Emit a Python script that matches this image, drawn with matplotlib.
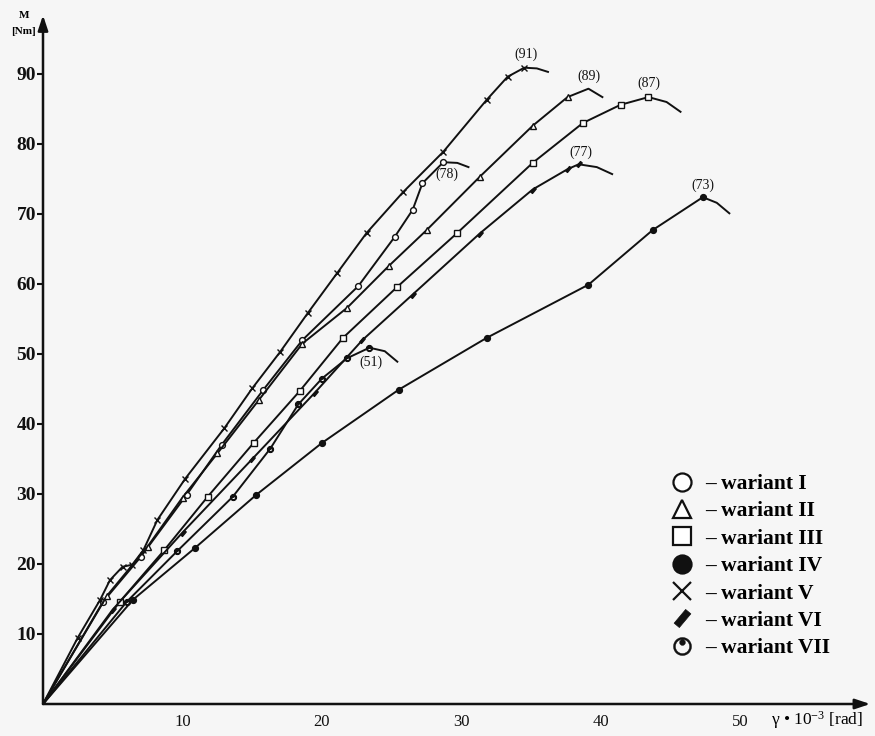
import numpy as np
import matplotlib
matplotlib.use("Agg")
import matplotlib.pyplot as plt
from matplotlib.path import Path
from matplotlib.lines import Line2D

# ---------------- data ----------------
variant_names = ["I", "II", "III", "IV", "V", "VI", "VII"]

gamma_I = [0, 4.3, 7.0, 10.3, 12.8, 15.8, 18.6, 22.6, 25.2, 26.5, 27.2, 28.7, 29.7, 30.5]
M_I     = [0, 14.6, 21.0, 29.9, 37.0, 44.9, 52.0, 59.7, 66.7, 70.6, 74.4, 77.4, 77.3, 76.7]

gamma_II = [0, 4.6, 7.5, 10.0, 12.5, 15.5, 18.6, 21.8, 24.8, 27.5, 31.3, 35.1, 37.6, 39.1, 40.1]
M_II     = [0, 15.5, 22.5, 29.5, 35.8, 43.5, 51.5, 56.6, 62.6, 67.7, 75.3, 82.6, 86.7, 87.9, 86.7]

gamma_III = [0, 5.5, 8.7, 11.8, 15.1, 18.4, 21.5, 25.4, 29.7, 35.1, 38.7, 41.4, 43.4, 44.7, 45.7]
M_III     = [0, 14.6, 22.0, 29.6, 37.3, 44.7, 52.3, 59.6, 67.3, 77.3, 83.0, 85.6, 86.7, 86.0, 84.6]

gamma_IV = [0, 6.45, 10.9, 15.3, 20.0, 25.5, 31.8, 39.1, 43.7, 47.3, 48.3, 49.2]
M_IV     = [0, 14.9, 22.3, 29.9, 37.3, 44.9, 52.3, 59.9, 67.7, 72.4, 71.6, 70.1]

gamma_V = [0, 2.5, 4.1, 4.8, 5.7, 6.4, 7.2, 8.2, 10.2, 13.0, 15.0, 17.0, 19.0, 21.1, 23.2,
           25.8, 28.7, 31.8, 33.3, 34.5, 35.4, 36.2]
M_V     = [0, 9.5, 14.9, 17.7, 19.6, 19.9, 22.0, 26.3, 32.2, 39.4, 45.1, 50.3, 55.9, 61.6, 67.3,
           73.1, 78.9, 86.3, 89.6, 90.9, 90.8, 90.3]

gamma_VI = [0, 5.0, 10.0, 15.0, 19.5, 22.9, 26.5, 31.3, 35.1, 37.6, 38.4, 39.7, 40.8]
M_VI     = [0, 13.5, 24.5, 35.0, 44.5, 52.0, 58.5, 67.2, 73.5, 76.4, 77.1, 76.7, 75.7]

gamma_VII = [0, 6.0, 9.6, 13.6, 16.3, 18.3, 20.0, 21.8, 23.4, 24.5, 25.4]
M_VII     = [0, 14.6, 21.8, 29.6, 36.5, 42.8, 46.5, 49.4, 50.9, 50.4, 48.9]

peak_labels = ["(78)", "(89)", "(87)", "(73)", "(91)", "(77)", "(51)"]

x_ticks = [10, 20, 30, 40, 50]
y_ticks = [10, 20, 30, 40, 50, 60, 70, 80, 90]

# ---------------- style ----------------
plt.rcParams["font.family"] = ["Liberation Serif", "DejaVu Serif"]
plt.rcParams["mathtext.fontset"] = "custom"
plt.rcParams["mathtext.rm"] = "Liberation Serif"
plt.rcParams["mathtext.it"] = "Liberation Serif:italic"

BG = "#f6f6f6"
INK = "#111111"

# custom marker: thick slanted bar (variant VI)
ang = np.deg2rad(50)
rot = np.array([[np.cos(ang), -np.sin(ang)], [np.sin(ang), np.cos(ang)]])
bar = np.array([[-1, -0.38], [1, -0.38], [1, 0.38], [-1, 0.38], [-1, -0.38]]) @ rot.T
bar_marker = Path(bar, [Path.MOVETO, Path.LINETO, Path.LINETO, Path.LINETO, Path.CLOSEPOLY])

# custom marker: ring with dot at top (variant VII)
t = np.linspace(0, 2 * np.pi, 49)
circ = np.c_[np.cos(t), np.sin(t)]
outer = circ
inner = 0.78 * circ[::-1]
dot = 0.32 * circ + np.array([0, 0.44])
verts = np.vstack([outer, inner, dot])
codes = []
for _ in range(3):
    codes += [Path.MOVETO] + [Path.LINETO] * (len(t) - 2) + [Path.CLOSEPOLY]
ring_marker = Path(verts, codes)

series = [
    (gamma_I, M_I, dict(marker="o", mfc="white", mec=INK)),
    (gamma_II, M_II, dict(marker="^", mfc="white", mec=INK)),
    (gamma_III, M_III, dict(marker="s", mfc="white", mec=INK)),
    (gamma_IV, M_IV, dict(marker="o", mfc=INK, mec=INK)),
    (gamma_V, M_V, dict(marker="x", mfc=INK, mec=INK)),
    (gamma_VI, M_VI, dict(marker=bar_marker, mfc=INK, mec=INK)),
    (gamma_VII, M_VII, dict(marker=ring_marker, mfc=INK, mec=INK)),
]
legend_mew = [1.6, 1.6, 1.6, 1.6, 1.6, 0.5, 0.3]
label_offsets = [(4, -12), (0, 12), (0, 14), (0, 12), (2, 13), (2, 12), (2, -15)]

fig = plt.figure(figsize=(8.75, 7.36), dpi=100, facecolor=BG)
ax = fig.add_axes([43 / 875, 32 / 736, 832 / 875, 699 / 736])
ax.set_facecolor(BG)
ax.set_xlim(0, 832 / 13.95)
ax.set_ylim(0, 699 / 7.0)

for (gx, my, st), lab, off in zip(series, peak_labels, label_offsets):
    ax.plot(gx, my, color=INK, lw=1.4, ms=4.2, mew=1.0, markevery=slice(1, -2),
            solid_joinstyle="round", **st)
    ip = int(np.argmax(my))
    ax.annotate(lab, xy=(gx[ip], my[ip]), xytext=off, textcoords="offset pixels",
                ha="center", va="center", fontsize=10, color=INK)

# axes with arrows
for s in ax.spines.values():
    s.set_visible(False)
ax.annotate("", xy=(59.3, 0), xytext=(0, 0),
            arrowprops=dict(arrowstyle="-|>,head_length=0.9,head_width=0.3", lw=1.8, color=INK,
                            shrinkA=0, shrinkB=0), annotation_clip=False)
ax.annotate("", xy=(0, 98.4), xytext=(0, 0),
            arrowprops=dict(arrowstyle="-|>,head_length=0.9,head_width=0.3", lw=1.8, color=INK,
                            shrinkA=0, shrinkB=0), annotation_clip=False)

ax.set_xticks(x_ticks)
ax.set_xticklabels([str(v) for v in x_ticks], fontsize=12, color=INK)
ax.set_yticks(y_ticks)
ax.set_yticklabels([str(v) for v in y_ticks], fontsize=14, fontweight="bold", color=INK)
ax.tick_params(axis="x", length=0, pad=7)
ax.tick_params(axis="y", direction="out", length=4, width=1.5, pad=1, color=INK)

fig.text(24 / 875, 1 - 15 / 736, "M", ha="center", va="center", fontsize=8, fontweight="bold")
fig.text(23 / 875, 1 - 31 / 736, "[Nm]", ha="center", va="center", fontsize=8, fontweight="bold")
fig.text(771 / 875, 1 - 720 / 736, r"γ • 10$^{-3}$ [rad]", ha="left", va="center", fontsize=12.5)

# legend
handles = []
for (gx, my, st), mw in zip(series, legend_mew):
    handles.append(Line2D([], [], ls="none", ms=13, mew=mw, **st))
labels = ["– wariant " + n for n in variant_names]
leg = ax.legend(handles, labels, loc="upper left", bbox_to_anchor=(673 / 875, 1 - 474 / 736),
                bbox_transform=fig.transFigure, frameon=False,
                prop=dict(family="Liberation Serif", size=15.5, weight="bold"),
                handlelength=0.85, handletextpad=0.62, labelspacing=0.34,
                borderpad=0, borderaxespad=0)

fig.savefig("out.png", dpi=100, facecolor=BG)
